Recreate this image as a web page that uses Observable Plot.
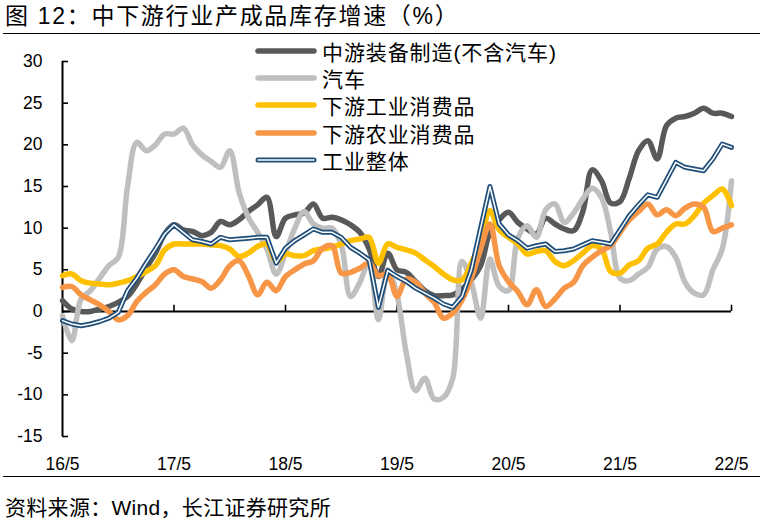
<!DOCTYPE html>
<html><head><meta charset="utf-8">
<script src="https://cdn.jsdelivr.net/npm/d3@7"></script>
<script src="https://cdn.jsdelivr.net/npm/@observablehq/plot@0.6"></script>
<style>
body{margin:0;background:#fff;width:763px;height:528px;position:relative;overflow:hidden;font-family:"Liberation Sans","Noto Sans CJK SC",sans-serif;color:#000;}
#title{position:absolute;left:5px;top:1px;font-size:23px;line-height:31px;white-space:pre;letter-spacing:1.7px;}
#tline{position:absolute;left:3px;top:33px;width:757px;height:0;border-top:1.6px solid #000;}
#chart{position:absolute;left:0;top:36px;}
#bline{position:absolute;left:3px;top:476px;width:757px;height:0;border-top:1.6px solid #000;}
#source{position:absolute;left:5px;top:495px;font-size:21px;line-height:26px;white-space:pre;letter-spacing:0.3px;}
#legend{position:absolute;left:255px;top:37px;}
.row{display:flex;align-items:center;height:27.3px;font-size:21px;white-space:pre;letter-spacing:0.9px;}
.row svg{display:block;margin-right:5px;}
</style></head>
<body>
<div id="title"></div>
<div id="tline"></div>
<div id="chart"></div>
<div id="legend"></div>
<div id="bline"></div>
<div id="source"></div>
<script>
const titleText = "图 12：中下游行业产成品库存增速（%）";
const sourceText = "资料来源：Wind，长江证券研究所";
const xTickIdx = [0, 12, 24, 36, 48, 60, 72];
const xTickLabels = ["16/5", "17/5", "18/5", "19/5", "20/5", "21/5", "22/5"];
const yTicks = [-15, -10, -5, 0, 5, 10, 15, 20, 25, 30];
const seriesNames = ["中游装备制造(不含汽车)", "汽车", "下游工业消费品", "下游农业消费品", "工业整体"];
const seriesColors = ["#595959", "#BFBFBF", "#FFC000", "#F79646", "#1F4E79"];

// monthly, 2016/5 .. 2022/5
const equip = [1.3,0.3,0,0,0.3,0.6,1.1,1.8,3.3,5.2,7,9.3,10.4,9.8,9.6,9.1,9.5,10.8,10.4,11,12,12.8,13.7,9,
  11.2,11.6,11.8,12.9,11.2,11.3,11,10.4,9.5,7.5,4.2,7,5,4.7,3.6,2.5,1.9,1.9,2,2.7,3.8,5.5,9.5,11,
  11.9,10.7,9.9,9.3,11.2,10.5,9.9,9.7,12,17,15.7,13,13.2,16,19.3,20.5,18.3,22.3,23.2,23.4,23.8,24.4,23.8,23.8,23.4];
const auto = [-0.5,-3.5,1.5,2.5,4,5.5,6.5,15,20.3,19.3,20,21.3,21.3,22,20,18.8,18,17.3,19.3,14.3,11.3,9.5,7.5,4.5,
  7,10,12,10.5,10,10,8,1.8,3.5,6,-1,5,2,-5,-9.5,-8,-10.5,-10.3,-8,6,3.5,-0.8,6.3,3,
  2.5,8.8,10.3,8.9,12.2,12.9,10.7,11.8,13.5,14.8,13.7,9.5,4,3.7,4.5,5.3,7.5,7.8,6.5,3.5,2.2,2,5,7.5,15.7];
const indCons = [4.3,4.5,3.7,3.4,3.3,3.2,3.4,3.7,4.2,4.8,5.5,7.4,8.1,8.1,8.1,8.1,8,7.9,7.5,6.6,7,7.8,8.1,6,
  6.9,6.7,6.7,7.3,7.5,7.7,8.1,8.5,8.7,8.9,5.8,8.1,7.7,7.4,7,6.2,5.4,4.5,3.8,3.8,5.8,8.5,12.1,9.8,
  8.9,8.1,6.9,7.2,7.3,6,5.5,6.1,7,7.9,7.5,4.8,4.6,5.6,6.1,7.6,8.1,9.5,10.5,10.5,11.5,13,13.9,14.7,12.7];
const agriCons = [2.9,3,2,1.4,0.8,0,-1,-0.5,1.2,2.3,3.2,4.5,5,4.2,3.9,3.6,2.8,3.8,5.5,6.1,4.3,2,3.5,2.5,
  4.2,5,5.7,6.1,7.6,7.9,4.6,4.7,5.2,5.8,4.3,4.5,1.8,3.9,3.5,2.2,1.1,-0.8,-0.2,1.4,4,7.5,10.5,5.5,
  3.6,2.4,0.8,2.6,0.6,1.5,2.8,3.5,5.5,6.5,7.3,7.9,9.5,11,12,12.9,11.6,12.2,11.5,12.4,12.9,12.5,9.6,10,10.4];
const industry = [-1.1,-1.5,-1.7,-1.5,-1.2,-0.8,-0.1,2.5,4,5.8,7.5,9.3,10.4,9.5,8.6,8.4,8.1,8.9,8.6,8.7,8.8,8.9,8.9,5.8,
  7.6,8.5,9.2,9.9,9.5,9.5,8.9,7.7,7,6.2,0.5,4.9,4.2,3.6,2.8,2.2,1.6,0.9,0.5,1.8,5,10,15,10.5,
  9.2,8.5,7.6,7.9,8.1,7.2,7.3,7.5,8,8.5,8.3,8.1,9.8,11.5,12.8,14,13.7,15.8,17.9,17.3,17.1,16.9,18.3,20.1,19.7];

const allSeries = [equip, auto, indCons, agriCons, industry];
const toRows = (arr, k) => arr.map((v, i) => ({i, v, s: seriesNames[k]}));

document.getElementById("title").textContent = titleText;
document.getElementById("source").textContent = sourceText;

const marks = [];
marks.push(Plot.ruleY([0], {stroke: "#000", strokeWidth: 2}));
marks.push(Plot.ruleX([0], {stroke: "#000", strokeWidth: 2}));
marks.push(Plot.ruleX(xTickIdx.slice(1), {x: d => d, y1: 0, y2: 0.75, stroke: "#000", strokeWidth: 1.6}));
marks.push(Plot.ruleY(yTicks, {y: d => d, x1: 0, x2: 0.65, stroke: "#000", strokeWidth: 1.6}));
marks.push(Plot.axisY({ticks: yTicks, tickSize: 0, tickPadding: 20, tickFormat: d => String(d), fontSize: 17.5, label: null}));
marks.push(Plot.axisX({ticks: xTickIdx, tickSize: 0, tickPadding: 21, tickFormat: d => xTickLabels[xTickIdx.indexOf(d)], fontSize: 17.5, label: null}));
allSeries.forEach((arr, k) => {
  const rows = toRows(arr, k);
  if (k === 4) {
    marks.push(Plot.line(rows, {x: "i", y: "v", stroke: seriesColors[k], strokeWidth: 5, curve: "linear", strokeLinejoin: "round", strokeLinecap: "round"}));
    marks.push(Plot.line(rows, {x: "i", y: "v", stroke: "#fff", strokeWidth: 1.5, curve: "linear", strokeLinejoin: "round", strokeLinecap: "round"}));
  } else {
    marks.push(Plot.line(rows, {x: "i", y: "v", stroke: seriesColors[k], strokeWidth: 5.5, curve: "catmull-rom", strokeLinejoin: "round", strokeLinecap: "round"}));
  }
});

const chart = Plot.plot({
  width: 763, height: 440,
  marginLeft: 62, marginRight: 32, marginTop: 25, marginBottom: 40,
  x: {type: "linear", domain: [0, 72]},
  y: {type: "linear", domain: [-15, 30]},
  style: {fontFamily: "Liberation Sans, Noto Sans CJK SC, sans-serif", fontSize: "17.5px", color: "#000", background: "transparent"},
  marks
});
document.getElementById("chart").appendChild(chart);

const leg = document.getElementById("legend");
seriesNames.forEach((name, k) => {
  const row = document.createElement("div");
  row.className = "row";
  const ns = "http://www.w3.org/2000/svg";
  const sw = document.createElementNS(ns, "svg");
  sw.setAttribute("width", 62); sw.setAttribute("height", 10);
  const mk = (color, w) => {
    const l = document.createElementNS(ns, "line");
    l.setAttribute("x1", 3); l.setAttribute("x2", 59); l.setAttribute("y1", 5); l.setAttribute("y2", 5);
    l.setAttribute("stroke", color); l.setAttribute("stroke-width", w); l.setAttribute("stroke-linecap", "round");
    sw.appendChild(l);
  };
  mk(seriesColors[k], k === 4 ? 5 : 5.5);
  if (k === 4) mk("#fff", 1.5);
  row.appendChild(sw);
  const t = document.createElement("span");
  t.textContent = name;
  row.appendChild(t);
  leg.appendChild(row);
});
</script>
</body></html>
